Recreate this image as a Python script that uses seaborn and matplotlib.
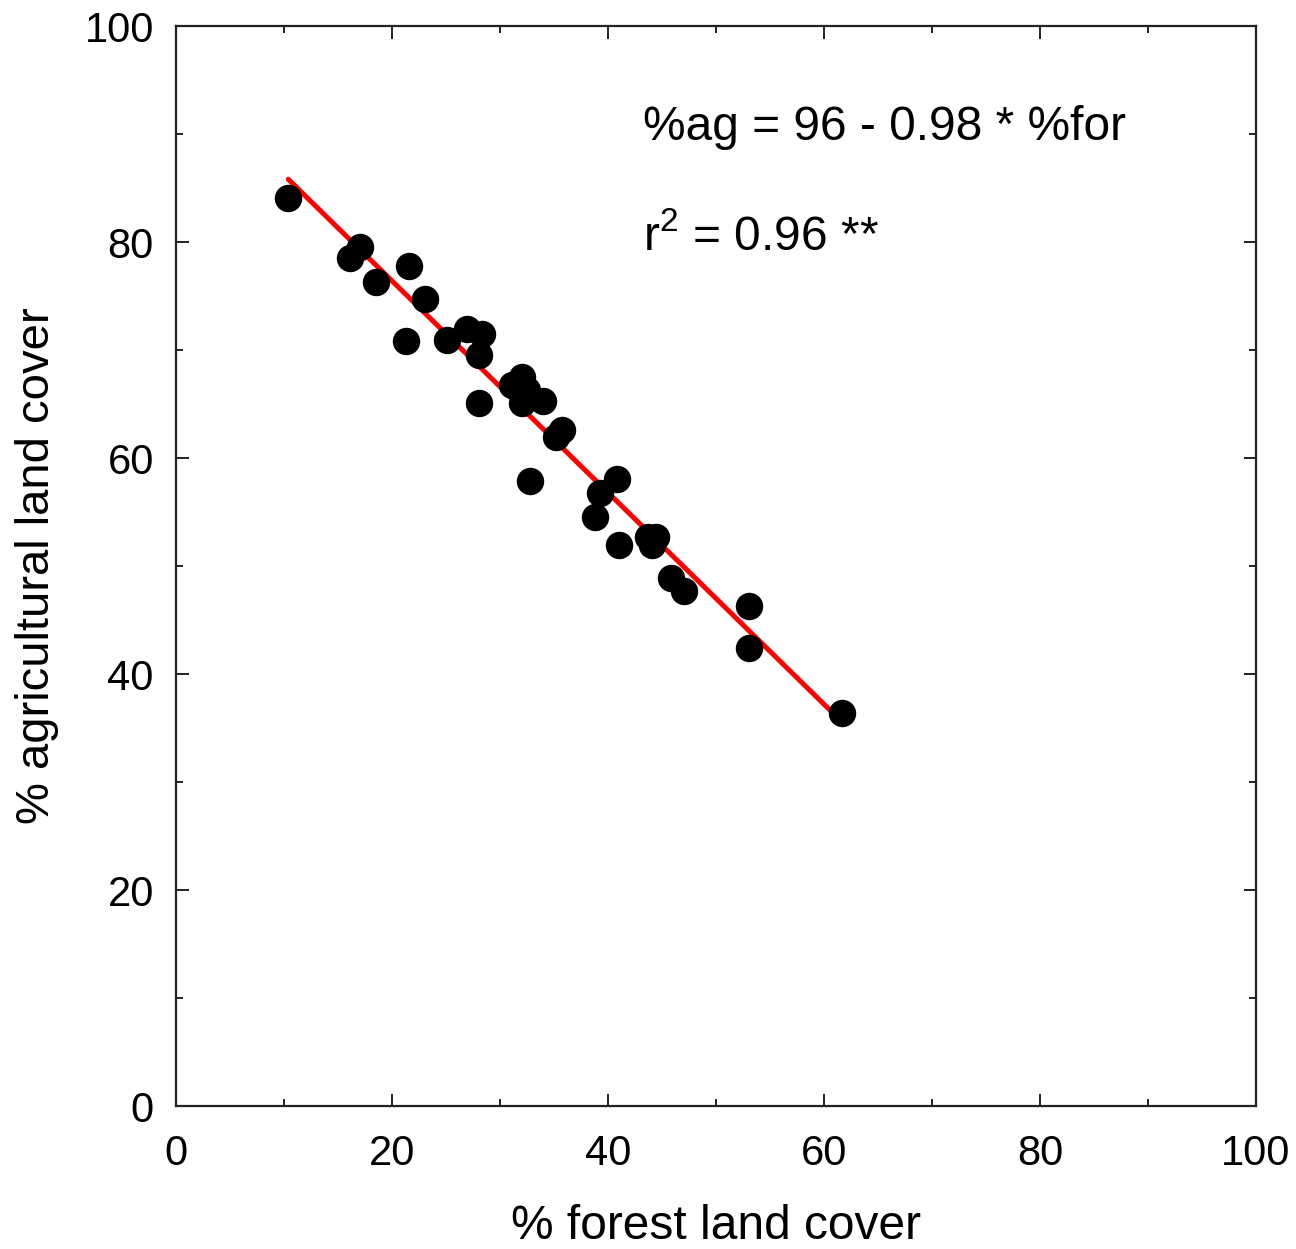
import matplotlib
matplotlib.use("Agg")
import matplotlib.pyplot as plt
import seaborn as sns
import pandas as pd
import numpy as np
from matplotlib.ticker import MultipleLocator

forest = [10.4, 16.1, 17.0, 18.5, 21.6, 21.3, 23.1, 25.1, 26.9, 28.3, 28.1, 28.1,
          31.1, 32.0, 32.5, 32.0, 34.0, 35.2, 35.7, 32.8, 39.3, 38.8, 40.8, 41.0,
          43.7, 44.1, 44.4, 45.8, 47.0, 53.1, 53.1, 61.7]
agri = [84.1, 78.5, 79.5, 76.3, 77.8, 70.8, 74.7, 70.9, 71.9, 71.5, 69.5, 65.1,
        66.8, 67.5, 66.3, 65.1, 65.3, 61.9, 62.6, 57.9, 56.8, 54.5, 58.1, 51.9,
        52.7, 51.9, 52.7, 48.9, 47.7, 46.3, 42.4, 36.4]
intercept = 96.0
slope = -0.98
eq_text = "%ag = 96 - 0.98 * %for"
r2_text = "r$^2$ = 0.96 **"
xlabel = "% forest land cover"
ylabel = "% agricultural land cover"

sns.set_theme(style="ticks")
plt.rcParams['font.family'] = ['Liberation Sans', 'DejaVu Sans']
plt.rcParams['mathtext.fontset'] = 'custom'
plt.rcParams['mathtext.rm'] = 'Liberation Sans'
plt.rcParams['mathtext.it'] = 'Liberation Sans'
plt.rcParams['mathtext.default'] = 'regular'

df = pd.DataFrame({"forest": forest, "agri": agri})
xl = np.array([min(forest), max(forest)])
line_df = pd.DataFrame({"x": xl, "y": intercept + slope * xl})

fig = plt.figure(figsize=(12.96, 12.49), dpi=100)
ax = fig.add_axes([176/1296, 143/1249, 1080/1296, 1080/1249])

sns.lineplot(data=line_df, x="x", y="y", color="#ff0000", linewidth=3.6, ax=ax, zorder=2)
sns.scatterplot(data=df, x="forest", y="agri", s=390, color="black", edgecolor="black",
                linewidth=0, ax=ax, zorder=3)

ax.set_xlim(0, 100)
ax.set_ylim(0, 100)
ax.xaxis.set_major_locator(MultipleLocator(20))
ax.xaxis.set_minor_locator(MultipleLocator(10))
ax.yaxis.set_major_locator(MultipleLocator(20))
ax.yaxis.set_minor_locator(MultipleLocator(10))
ax.tick_params(which="both", direction="in", top=True, right=True, width=1.4, color="#222222")
ax.tick_params(which="major", length=9, labelsize=30, labelcolor="black")
ax.tick_params(axis="x", which="major", pad=20)
ax.tick_params(axis="y", which="major", pad=16)
ax.tick_params(which="minor", length=5)
for sp in ax.spines.values():
    sp.set_visible(True)
    sp.set_linewidth(1.6)
    sp.set_color("#222222")

ax.set_xlabel(xlabel, fontsize=34.5, labelpad=22, color="black")
ax.set_ylabel(ylabel, fontsize=34, labelpad=18, color="black")

ax.text(43.2, 89.4, eq_text, fontsize=34.5, va="baseline", ha="left", color="black")
ax.text(43.2, 79.3, r2_text, fontsize=34.5, va="baseline", ha="left", color="black")

fig.savefig("out.png", dpi=100, facecolor="white")
